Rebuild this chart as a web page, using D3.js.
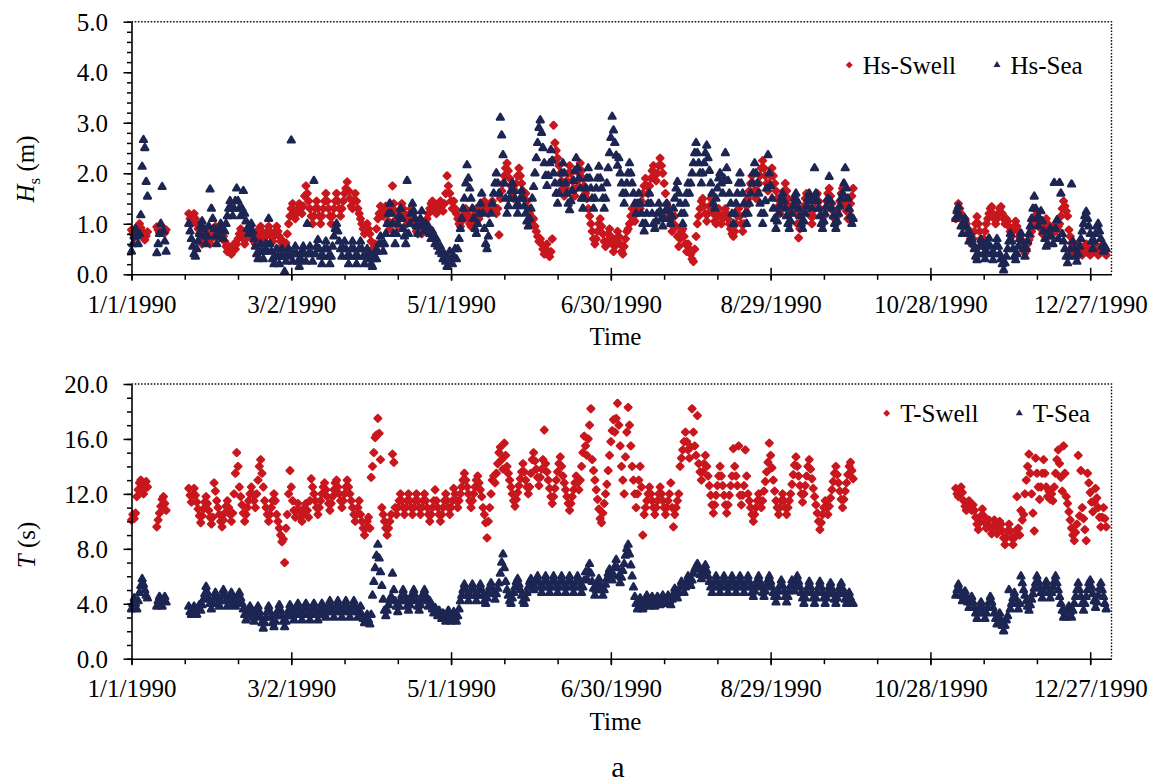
<!DOCTYPE html>
<html><head><meta charset="utf-8">
<script src="https://cdn.jsdelivr.net/npm/d3@7"></script>
<style>body{margin:0;background:#fff}svg{display:block}</style>
</head><body><svg id="c" width="1155" height="784"></svg>
<script>
// ---- data: values every 0.5 day; segments start at these day offsets from 1/1/1990 ----
const segStart = [0, 9.5, 21.5, 309.5];

const hsSwell = [
 [0.88,0.8,0.72,0.8,0.88,0.96,1.0,0.92,0.84,0.76,0.68,0.76,0.84],
 [0.94,0.88,0.82,0.88,0.94,0.88,0.82,0.88],
 [1.2,1.1,1.0,1.1,1.2,1.1,1.0,0.9,0.8,0.7,0.6,0.7,0.8,0.9,0.8,0.7,0.6,0.7,0.8,0.9,
  0.95,0.85,0.75,0.85,0.95,0.85,0.75,0.65,0.55,0.45,0.55,0.45,0.4,0.5,0.6,0.5,0.6,0.7,0.8,0.9,
  0.8,0.7,0.6,0.7,0.8,0.9,0.95,0.85,0.75,0.65,0.6,0.7,0.8,0.9,0.95,0.85,0.75,0.65,0.75,0.85,
  0.95,0.85,0.75,0.65,0.75,0.85,0.95,0.85,0.75,0.65,0.55,0.65,0.55,0.62,0.8,1.0,1.15,1.3,1.4,1.25,
  1.1,1.2,1.3,1.4,1.3,1.2,1.35,1.55,1.75,1.6,1.45,1.3,1.15,1.0,1.15,1.3,1.45,1.3,1.15,1.0,
  1.15,1.3,1.45,1.6,1.45,1.3,1.15,1.0,1.15,1.3,1.45,1.6,1.45,1.3,1.15,1.3,1.45,1.6,1.7,1.83,
  1.65,1.5,1.35,1.3,1.45,1.6,1.45,1.3,1.2,1.1,1.0,0.9,0.8,0.9,1.0,0.9,0.8,0.65,0.5,0.42,
  0.6,0.9,1.1,1.2,1.35,1.25,1.15,1.25,1.35,1.2,1.05,0.9,1.3,1.75,1.4,1.25,1.1,0.95,1.1,1.25,
  1.4,1.3,1.2,1.1,1.0,1.1,1.2,1.3,1.2,1.05,0.95,0.85,0.8,0.9,0.85,0.8,0.9,0.85,0.95,1.1,
  1.2,1.3,1.4,1.45,1.35,1.25,1.2,1.3,1.4,1.45,1.35,1.25,1.4,1.6,1.95,1.75,1.6,1.45,1.3,1.45,
  1.3,1.2,1.1,1.0,0.95,1.05,1.15,1.25,1.3,1.2,1.1,1.0,0.95,1.05,1.15,1.25,1.3,1.2,1.1,1.2,
  1.3,1.4,1.45,1.35,1.25,1.2,1.3,1.4,1.45,1.35,1.25,1.2,1.3,0.78,1.5,1.65,1.8,1.95,2.1,2.2,
  2.05,1.9,1.75,1.6,1.5,1.65,1.8,1.95,2.1,1.95,1.8,1.65,1.5,1.6,1.45,1.3,1.2,1.1,1.0,1.1,
  0.95,0.85,0.75,0.65,0.7,0.6,0.5,0.4,0.5,0.6,0.45,0.35,0.45,0.7,2.95,2.6,2.45,2.3,2.15,2.0,
  1.85,1.7,1.55,1.7,1.85,2.0,2.15,2.0,1.85,1.7,1.55,1.7,1.85,2.0,2.2,2.05,1.9,1.75,1.6,1.5,
  1.3,1.15,1.0,0.85,0.7,0.6,0.7,0.85,1.0,1.1,0.95,0.8,0.65,0.55,0.65,0.8,0.9,0.75,0.6,0.45,
  0.55,0.7,0.85,0.75,0.6,0.45,0.4,0.55,0.7,0.85,0.9,1.0,1.15,1.3,1.2,1.05,1.2,1.3,1.4,1.3,
  1.45,1.6,1.75,1.9,1.75,1.6,1.75,1.9,2.05,2.15,2.0,1.85,2.0,2.15,2.3,2.15,2.0,1.8,1.6,1.4,
  1.3,1.15,1.0,0.85,1.0,1.15,0.95,0.75,0.55,0.7,0.85,0.9,0.75,0.6,0.45,0.6,0.5,0.4,0.3,0.25,
  0.5,0.75,1.0,1.15,1.3,1.45,1.5,1.35,1.2,1.05,1.2,1.35,1.5,1.35,1.2,1.05,1.0,1.15,1.3,1.15,
  1.0,1.1,1.2,1.3,1.2,1.1,1.0,0.9,0.8,0.75,0.85,1.0,1.15,1.3,1.15,1.0,0.85,1.0,1.2,1.35,
  1.5,1.65,1.8,1.95,1.8,1.65,1.5,1.65,1.8,1.95,2.1,2.25,2.1,1.95,1.8,1.65,1.8,1.95,2.1,1.95,
  1.8,1.65,1.5,1.35,1.2,1.35,1.5,1.65,1.8,1.65,1.5,1.35,1.2,1.35,1.5,1.35,1.2,1.0,0.72,0.9,
  1.05,1.2,1.35,1.5,1.6,1.45,1.3,1.15,1.0,1.15,1.3,1.45,1.6,1.45,1.3,1.15,1.0,1.15,1.3,1.45,
  1.6,1.7,1.55,1.4,1.25,1.1,1.0,1.15,1.3,1.45,1.6,1.7,1.55,1.4,1.25,1.1,1.25,1.4,1.55,1.7],
 [1.1,1.25,1.4,1.3,1.2,1.1,1.0,1.1,1.0,0.9,
  0.8,0.7,0.6,0.7,0.85,1.0,1.14,1.0,0.85,0.7,0.6,0.7,0.85,1.0,
  1.1,1.2,1.3,1.34,1.2,1.1,1.0,1.1,1.2,1.3,1.34,1.2,1.1,1.0,1.1,
  1.05,0.95,0.85,0.75,0.85,0.95,1.05,0.95,0.85,0.75,
  0.68,0.58,0.48,0.42,0.5,0.6,0.68,
  0.75,0.85,0.95,1.05,1.15,1.2,1.1,1.0,0.9,0.8,0.9,1.0,1.1,
  1.0,0.9,0.85,0.9,0.95,0.9,0.85,0.9,0.95,1.0,
  1.15,1.3,1.45,1.35,1.25,1.15,
  0.88,0.75,0.62,0.5,0.42,0.5,
  0.55,0.6,0.52,0.45,0.38,0.45,0.52,0.6,0.52,0.45,0.38,0.45,0.52,0.6,0.52,0.45,0.38,0.45,0.52,0.58,0.5,0.42,0.38]
];

const hsSea = [
 [0.45,0.6,0.75,0.9,0.75,0.6,0.8,1.17,2.13,2.66,2.5,1.83,1.54],
 [0.42,0.6,0.8,1.0,1.73,0.85,0.65,0.45],
 [1.0,0.85,0.7,0.55,0.4,0.35,0.5,0.65,0.8,0.95,1.05,0.9,0.75,0.6,0.75,0.95,1.68,1.3,1.1,0.9,
  0.75,0.6,0.75,0.9,1.0,0.85,0.7,0.85,1.0,1.15,1.3,1.45,1.3,1.15,1.3,1.45,1.7,1.45,1.3,1.15,
  1.3,1.65,1.2,1.05,0.9,0.8,0.9,1.0,0.85,0.7,0.55,0.4,0.3,0.45,0.6,0.45,0.3,0.45,0.6,0.45,
  1.1,0.6,0.45,0.3,0.2,0.35,0.5,0.35,0.2,0.35,0.5,0.35,0.05,0.25,0.4,0.5,0.35,2.65,0.25,0.4,
  0.55,0.4,0.25,0.15,0.3,0.45,0.55,0.4,0.25,1.0,0.4,0.55,0.4,0.25,1.85,0.4,0.55,0.68,0.5,0.35,
  0.2,0.35,0.5,0.65,0.5,0.35,0.2,0.35,0.55,0.75,0.9,1.0,0.85,0.65,0.5,0.35,0.5,0.65,0.5,0.35,
  0.2,0.35,0.5,0.65,0.5,0.35,0.2,0.35,0.5,0.65,0.5,0.35,0.2,0.35,0.5,0.4,0.3,0.2,0.15,0.3,
  0.45,0.3,0.45,0.6,0.75,0.6,0.45,0.6,0.8,1.0,1.2,1.4,1.2,1.0,0.8,0.6,0.8,1.0,1.15,1.3,
  1.1,0.9,0.75,0.6,1.85,0.8,1.0,1.2,1.4,1.25,1.1,0.95,0.8,0.95,1.1,1.25,1.0,0.85,1.0,0.9,
  0.95,0.8,0.7,0.85,0.75,0.6,0.7,0.55,0.45,0.55,0.4,0.3,0.4,0.25,0.15,0.3,0.45,0.3,0.2,0.35,
  0.5,0.3,0.5,0.7,0.9,1.1,1.3,1.5,1.8,2.16,1.9,1.7,1.5,1.3,1.1,0.9,0.8,1.0,1.2,1.4,
  1.6,1.2,0.9,0.6,0.5,0.75,1.0,1.2,1.4,1.6,1.8,2.0,1.8,1.6,3.1,2.75,2.36,1.8,1.5,1.2,
  1.35,1.5,1.65,1.8,1.65,1.5,1.35,1.2,1.35,1.5,1.65,1.5,1.35,1.2,1.05,0.95,1.1,1.3,1.5,1.73,
  2.0,2.3,2.6,2.9,3.05,2.8,2.5,2.2,1.95,1.75,1.95,2.2,2.46,2.25,2.0,1.8,1.6,1.4,1.6,1.8,
  2.0,2.2,2.0,1.8,1.6,1.4,1.27,1.45,1.65,1.85,2.05,2.3,2.1,1.9,1.7,1.5,1.3,1.5,1.7,1.9,
  2.1,1.9,1.7,1.5,1.3,1.5,1.7,1.9,2.13,1.9,1.7,1.5,1.3,1.5,1.8,2.1,2.4,2.7,3.12,2.85,
  2.6,2.35,2.15,2.3,2.0,1.8,1.6,1.4,1.6,1.8,2.0,2.2,2.0,1.8,1.6,1.4,1.2,1.4,1.6,1.4,
  1.2,1.0,0.85,1.0,1.2,1.4,1.6,1.4,1.2,1.0,0.9,1.05,1.2,1.4,1.25,1.1,0.95,1.1,1.25,1.4,
  1.25,1.1,1.0,1.15,1.3,1.5,1.7,1.83,1.6,1.4,1.2,1.0,1.2,1.4,1.6,1.8,1.6,1.8,2.0,2.2,
  2.4,2.6,2.4,2.2,2.0,1.8,2.0,2.2,2.4,2.55,2.3,2.05,1.8,1.6,1.4,1.3,1.5,1.7,1.9,2.0,
  1.8,1.6,1.9,2.4,2.1,1.85,1.6,1.4,1.2,1.0,1.2,1.4,1.6,1.8,2.0,1.8,1.6,1.4,1.2,1.0,
  1.2,1.4,1.6,1.8,2.0,2.2,2.0,1.8,1.6,1.4,1.2,1.0,1.2,1.45,1.7,2.36,2.0,1.75,1.5,1.3,
  1.1,0.9,1.05,1.2,1.35,1.5,1.6,1.45,1.3,1.15,1.0,0.9,1.05,1.2,1.35,1.5,1.6,1.45,1.3,1.15,
  1.0,0.9,1.05,1.2,1.35,1.5,1.6,1.45,1.3,1.5,2.1,1.6,1.45,1.3,1.15,1.0,0.9,1.05,1.2,1.35,
  1.5,1.93,1.45,1.3,1.15,1.0,0.9,1.05,1.2,1.35,1.5,1.6,1.8,2.1,1.7,1.5,1.3,1.15,1.0,1.1],
 [1.1,1.25,1.34,1.15,0.95,0.8,
  0.95,1.1,0.95,0.8,0.65,0.8,0.7,0.6,
  0.5,0.35,0.28,0.4,0.55,0.68,0.55,0.4,0.3,0.45,
  0.6,0.71,0.55,0.4,0.28,0.4,0.55,0.7,0.55,0.4,0.3,0.2,
  0.08,0.22,
  0.35,0.5,0.65,0.8,0.65,0.5,0.35,0.28,0.4,0.55,0.7,0.81,0.65,0.5,0.35,0.5,
  0.65,0.8,0.95,1.1,1.3,1.54,1.3,1.1,0.95,1.1,1.25,1.05,0.85,0.7,0.55,
  0.6,0.75,0.9,0.75,0.6,
  1.81,0.9,1.07,0.7,1.81,
  1.6,0.8,0.65,0.5,0.35,0.22,0.35,0.5,1.78,0.65,0.5,0.35,0.25,
  0.4,0.55,0.7,0.85,1.0,1.15,1.24,1.1,0.95,0.8,0.65,0.5,0.65,0.8,0.95,1.0,0.85,0.7,0.55,0.45,0.55,0.5]
];

const tSwell = [
 [10.1,10.5,10.2,10.6,11.8,12.3,12.8,13.0,12.5,12.0,12.4,12.9,12.5],
 [9.6,10.1,10.6,11.1,11.6,11.8,11.3,10.8],
 [12.4,11.9,11.4,11.9,12.4,11.9,11.4,10.9,10.4,9.9,10.4,10.9,11.4,11.8,11.3,10.8,10.3,9.8,10.3,12.8,
  12.2,11.5,11.0,10.5,10.0,9.6,10.1,10.6,11.1,11.5,11.0,10.5,10.0,10.6,12.0,13.5,15.0,14.0,12.5,11.8,
  11.2,10.6,10.0,10.5,11.0,11.5,12.0,12.5,12.0,11.5,11.0,12.0,13.0,14.0,14.5,13.5,12.5,11.5,11.0,10.5,
  10.0,10.5,11.0,11.5,12.0,11.5,10.5,10.0,9.5,9.0,8.5,8.7,7.0,9.5,10.5,12.0,13.7,12.5,11.5,10.8,
  10.3,10.8,11.3,10.8,10.3,10.0,10.5,11.0,11.3,10.8,10.3,11.5,13.1,12.5,12.0,11.5,11.0,10.5,11.0,11.5,
  12.0,12.5,12.8,12.3,11.8,11.3,10.8,11.3,11.8,12.3,12.8,13.0,12.5,12.0,11.5,11.0,11.5,12.0,12.5,13.0,
  12.5,12.0,11.5,11.0,10.5,10.0,10.5,11.0,11.5,10.5,10.0,9.5,9.0,9.5,10.0,10.3,9.5,13.2,14.0,15.0,
  16.1,16.3,17.5,16.4,14.5,11.0,10.5,10.0,9.5,9.0,9.5,10.0,10.5,14.9,14.3,11.0,10.5,11.0,11.5,12.0,
  11.5,11.0,10.5,11.0,11.5,12.0,11.5,11.0,10.5,11.0,11.5,12.0,11.5,11.0,10.5,11.0,11.5,12.0,11.5,11.0,
  10.5,10.0,10.5,11.0,11.5,12.3,11.5,11.0,10.5,10.0,10.5,11.0,11.5,12.0,11.5,11.0,10.5,11.0,11.5,12.4,
  12.0,11.5,11.0,11.5,12.0,12.5,13.0,13.5,13.0,12.5,12.0,11.5,11.0,11.5,12.0,12.5,13.0,13.3,12.8,12.3,
  11.8,11.0,10.5,9.9,8.8,10.0,11.0,12.0,13.0,13.3,12.8,13.5,14.2,15.0,15.4,14.5,13.8,15.7,14.8,14.0,
  13.5,13.0,12.5,12.0,11.5,11.1,11.6,12.1,12.6,13.1,13.6,14.2,13.6,13.0,12.5,12.0,12.5,13.5,14.5,15.0,
  14.4,13.8,13.2,12.6,13.2,13.8,14.5,16.65,14.2,13.6,13.0,12.4,11.8,11.3,11.8,12.4,13.0,13.6,14.2,14.7,
  14.0,13.3,12.8,12.3,11.8,11.3,10.8,11.3,11.8,12.3,12.8,13.3,12.8,12.3,13.0,14.0,15.0,16.2,15.5,14.8,
  16.0,17.0,18.2,14.5,13.7,13.0,12.3,11.6,10.9,10.2,9.9,10.6,11.3,12.0,12.7,13.7,14.8,15.8,16.6,17.4,
  16.5,17.5,18.6,17.0,15.5,14.0,13.0,12.0,14.7,16.5,18.3,17.0,15.5,14.0,13.0,12.0,11.0,12.0,13.0,14.0,
  12.5,9.0,10.5,11.0,11.5,12.0,12.5,12.0,11.5,11.0,10.5,11.0,11.5,12.0,12.5,12.0,11.5,11.0,10.5,11.0,
  11.5,12.0,12.8,11.0,9.6,10.5,11.0,11.5,12.0,14.0,14.6,15.2,15.8,16.5,15.8,15.2,14.6,15.4,18.2,16.5,
  15.5,14.8,17.7,14.2,13.6,13.0,13.6,14.2,14.8,14.0,13.3,12.6,11.9,11.2,10.6,11.2,11.9,12.6,13.3,14.0,
  13.3,12.6,11.9,11.2,10.6,11.2,11.9,12.6,13.3,15.3,14.0,13.3,12.6,15.5,11.9,11.2,11.9,12.6,15.2,13.3,
  12.0,11.5,11.0,10.5,10.0,10.5,11.0,11.5,12.0,11.5,11.0,11.5,12.2,12.9,13.6,14.3,15.7,14.8,13.9,13.0,
  12.2,11.5,11.0,10.5,11.0,11.5,12.0,11.5,11.0,10.5,11.0,11.5,12.0,12.7,13.4,14.1,14.7,14.0,13.3,12.6,
  12.0,11.4,12.0,12.6,13.3,14.0,14.5,13.8,13.1,12.4,11.8,11.2,10.6,10.0,9.4,9.9,10.5,11.0,11.5,11.0,
  10.5,11.1,11.7,12.3,12.9,13.5,14.0,13.4,12.8,12.2,11.6,11.0,11.6,12.2,12.8,13.4,14.0,14.3,13.7,13.1],
 [12.4,12.0,11.8,12.2,12.5,12.1,
  11.5,11.1,10.8,11.2,11.5,11.1,10.8,11.2,
  10.8,10.3,9.8,9.4,9.9,10.4,10.9,10.4,9.9,9.5,
  9.6,10.1,9.6,9.1,9.6,10.1,9.6,9.1,9.6,10.0,
  9.8,9.3,8.8,8.3,8.8,9.3,9.8,9.3,8.8,8.3,8.8,9.3,11.8,9.5,9.0,
  10.8,10.1,10.5,
  12.0,13.0,14.0,14.9,13.5,12.0,10.6,9.3,14.6,13.5,12.5,11.6,12.5,13.5,14.5,13.5,12.5,
  11.8,12.2,11.6,12.0,
  11.5,12.5,13.5,14.5,15.2,14.2,13.2,12.2,15.5,13.5,11.8,
  11.3,10.7,10.1,9.5,9.0,8.6,9.2,9.8,14.8,10.4,13.7,11.0,10.2,9.4,8.6,
  13.5,12.8,12.1,11.4,10.7,11.4,12.4,11.7,11.0,10.3,9.6,10.3,11.0,10.2,9.6]
];

const tSea = [
 [3.6,4.0,4.4,4.0,3.6,4.2,4.8,5.3,5.8,5.4,5.0,4.6,4.4],
 [3.8,4.2,4.5,4.1,3.8,4.2,4.5,4.1],
 [3.8,3.4,3.2,3.6,3.8,3.4,3.2,3.6,3.9,3.5,3.9,4.3,4.7,5.24,4.8,4.4,4.0,3.6,4.0,4.4,
  4.8,4.4,4.0,3.8,4.2,4.6,5.0,4.6,4.2,3.8,4.2,4.6,4.8,4.4,4.0,3.8,4.2,4.6,4.8,4.4,
  4.0,3.6,3.2,2.8,3.2,3.6,3.8,3.4,3.0,2.7,3.1,3.5,3.8,3.4,3.0,2.6,2.2,2.6,3.0,3.4,
  3.8,3.4,3.0,2.6,2.3,2.7,3.1,3.5,3.9,3.5,3.1,2.7,2.3,2.7,3.1,3.5,3.9,3.5,3.1,2.8,
  3.2,3.6,4.0,3.6,3.2,2.8,3.2,3.6,4.0,3.6,3.2,2.8,3.2,3.6,4.0,3.6,3.2,2.8,3.2,3.6,
  4.0,3.6,3.2,3.0,3.4,3.8,4.2,3.8,3.4,3.0,3.4,3.8,4.2,3.8,3.4,3.0,3.4,3.8,4.2,3.8,
  3.4,3.0,3.4,3.8,4.2,3.8,3.4,3.0,3.4,3.8,3.2,2.9,2.6,2.9,3.2,2.8,2.5,3.2,4.6,5.6,
  6.6,7.5,8.3,7.3,6.3,5.3,4.3,3.5,3.1,3.5,3.9,4.3,4.5,6.2,5.0,4.2,3.8,3.4,3.8,4.2,
  4.6,5.0,4.6,4.2,3.8,3.5,3.9,4.3,4.7,5.0,4.6,4.2,3.8,3.5,3.9,4.3,4.7,5.0,4.6,4.2,
  3.8,4.2,4.0,3.6,3.3,3.7,3.4,3.1,3.5,3.2,2.9,3.3,3.0,2.7,3.1,3.5,3.1,2.7,3.0,3.4,
  3.0,2.7,3.1,3.6,4.2,4.6,5.0,5.4,5.0,4.6,4.2,4.6,5.0,5.4,5.0,4.6,4.2,4.6,5.0,5.4,
  5.0,4.6,4.2,4.0,4.4,4.8,5.2,5.5,5.1,4.7,4.3,4.7,5.1,5.5,6.2,7.0,7.6,6.6,5.6,5.0,
  4.6,4.2,4.0,4.4,4.8,5.2,5.6,5.8,5.4,5.0,4.6,4.2,4.0,4.4,4.8,5.2,5.6,5.8,5.4,5.0,
  5.2,5.6,6.0,5.6,5.2,4.8,5.2,5.6,6.0,5.6,5.2,4.8,5.2,5.6,6.0,5.6,5.2,4.8,5.2,5.6,
  6.0,5.6,5.2,4.8,5.2,5.6,6.0,5.6,5.2,4.8,5.2,5.6,6.0,5.6,5.2,4.8,5.2,5.7,6.3,5.8,
  6.4,6.9,6.2,5.6,5.1,4.6,5.0,5.4,5.8,5.4,5.0,4.6,5.0,5.4,5.8,6.2,6.5,6.1,5.7,6.1,
  6.7,7.2,6.6,6.0,5.5,5.9,6.4,6.9,7.5,8.0,8.3,7.6,6.8,6.0,5.2,4.5,4.0,3.6,4.0,4.4,
  4.0,3.6,3.8,4.2,4.6,4.2,3.8,4.1,4.5,4.2,3.8,4.1,4.5,4.2,3.9,4.2,4.6,4.3,4.0,4.4,
  4.6,4.2,3.9,4.3,4.7,5.1,4.7,4.4,4.8,5.2,5.6,5.2,4.8,5.2,5.6,6.0,5.6,5.3,5.7,6.2,
  6.5,6.7,6.9,6.5,6.1,5.8,6.2,6.6,6.8,6.4,6.0,5.6,5.2,4.8,5.2,5.6,6.0,5.6,5.2,4.8,
  5.2,5.6,6.0,5.6,5.2,4.8,5.2,5.6,6.0,5.6,5.2,4.8,5.2,5.6,6.0,5.6,5.2,4.8,5.2,5.6,
  6.0,5.6,5.2,4.8,4.5,4.9,5.3,5.7,6.0,5.6,5.2,4.8,4.5,4.9,5.3,5.7,6.0,5.6,5.2,4.8,
  4.5,4.1,4.5,4.9,5.3,5.7,5.3,4.9,4.5,4.1,4.5,4.9,5.3,5.7,5.3,4.9,5.5,6.0,5.6,5.2,
  4.8,4.4,4.0,4.4,4.8,5.2,5.6,5.2,4.8,4.4,4.0,4.4,4.8,5.2,5.6,5.2,4.8,4.4,4.0,4.4,
  4.8,5.2,5.5,5.1,4.7,4.3,4.0,4.4,4.8,5.2,5.5,5.1,4.7,4.3,4.0,4.4,4.8,4.4,4.1,4.0],
 [4.6,5.0,5.4,5.0,4.6,4.2,
  4.5,4.9,4.5,4.1,3.7,4.1,4.5,4.1,
  3.7,3.3,2.9,3.3,3.7,4.1,3.7,3.3,2.9,3.3,
  3.7,4.1,4.5,4.1,3.7,3.3,2.9,2.5,2.9,3.3,
  2.8,2.4,2.0,2.4,2.8,3.1,5.0,3.6,4.0,4.4,4.8,4.4,4.0,3.6,4.0,
  6.0,5.5,5.0,
  4.6,4.2,3.8,3.5,3.9,4.3,4.7,5.1,5.5,6.0,5.6,5.2,4.8,4.4,4.8,5.2,5.6,
  5.2,4.8,4.4,4.8,
  5.2,5.6,6.0,5.5,5.0,4.5,4.0,3.5,3.0,3.4,3.0,
  3.4,3.8,3.4,3.0,3.5,4.0,4.5,5.0,5.5,5.0,4.5,4.0,3.5,4.0,4.5,
  5.0,5.5,5.7,5.2,4.7,4.2,3.7,4.1,4.6,5.1,5.5,5.0,4.5,4.0,3.6]
];

// axes
const xDomainDays = [0, 368];
const xTickDays = [0, 60, 120, 180, 240, 300, 360];
const xTickLabels = ["1/1/1990","3/2/1990","5/1/1990","6/30/1990","8/29/1990","10/28/1990","12/27/1990"];
const xMinorStep = 20;
const hsTicks = [0, 1, 2, 3, 4, 5];
const tTicks = [0, 4, 8, 12, 16, 20];

// ---- drawing ----
const DAY = 86400000, T0 = Date.UTC(1990, 0, 1);
const dayToDate = d => new Date(T0 + d * DAY);
const RED = "#c8171e", NAVY = "#1d2653";
const FONT = "'Liberation Serif','Times New Roman',Times,serif";

function toPoints(series) {
  const pts = [];
  series.forEach((seg, s) => seg.forEach((v, i) => pts.push({ date: dayToDate(segStart[s] + i * 0.5), v })));
  return pts;
}

const svg = d3.select("#c");
svg.append("rect").attr("width", 1155).attr("height", 784).attr("fill", "#fff");

const x = d3.scaleUtc().domain(xDomainDays.map(dayToDate)).range([131.5, 1111.5]);
const diamond = d3.symbol(d3.symbolSquare, 22)();
const triangle = d3.symbol(d3.symbolTriangle, 20)();
const diamondL = d3.symbol(d3.symbolSquare, 24)();
const triangleL = d3.symbol(d3.symbolTriangle, 22)();

function panel(cfg) {
  const y = d3.scaleLinear().domain([0, cfg.ticks[cfg.ticks.length - 1]]).range([cfg.y0, cfg.y1]);
  const g = svg.append("g");
  const [xl, xr] = x.range();

  g.append("path")
    .attr("d", `M${xl},${cfg.y1}H${xr}V${cfg.y0}`)
    .attr("fill", "none").attr("stroke", "#111").attr("stroke-width", 1.4)
    .attr("stroke-dasharray", "1.6,1.6");

  const drawSeries = (data, path, color, rot) => {
    g.append("g").attr("fill", color).attr("stroke", color).attr("stroke-width", 2.4)
      .attr("stroke-linejoin", "round")
      .selectAll("path").data(toPoints(data)).join("path")
      .attr("d", path)
      .attr("transform", d => `translate(${x(d.date)},${y(d.v)})${rot ? " rotate(45)" : ""}`);
  };
  drawSeries(cfg.swell, diamond, RED, true);
  drawSeries(cfg.sea, triangle, NAVY, false);

  const minors = d3.range(0, cfg.ticks[cfg.ticks.length - 1] + 1e-9, cfg.minor);
  const yMinor = g.append("g").attr("transform", `translate(${xl},0)`)
    .call(d3.axisLeft(y).tickValues(minors).tickSize(4.5).tickSizeOuter(0).tickFormat(""));
  yMinor.select(".domain").remove();
  const yAx = g.append("g").attr("transform", `translate(${xl},0)`)
    .call(d3.axisLeft(y).tickValues(cfg.ticks).tickSize(8).tickSizeOuter(0).tickFormat(d3.format(".1f")));
  yAx.selectAll("text").attr("x", -23.5).attr("dy", "0.34em")
    .attr("font-family", FONT).attr("font-size", 25).attr("fill", "#000");

  const xMinorVals = d3.range(xDomainDays[0], xDomainDays[1], xMinorStep).map(dayToDate);
  const xMinor = g.append("g").attr("transform", `translate(0,${cfg.y0})`)
    .call(d3.axisBottom(x).tickValues(xMinorVals).tickSize(5.5).tickSizeOuter(0).tickFormat(""));
  xMinor.select(".domain").remove();
  const xAx = g.append("g").attr("transform", `translate(0,${cfg.y0})`)
    .call(d3.axisBottom(x).tickValues(xTickDays.map(dayToDate)).tickSize(6.5).tickSizeOuter(0)
      .tickFormat((d, i) => xTickLabels[i]));
  xAx.selectAll(".tick line").attr("y1", (d, i) => i === 0 ? 0 : -6.5);
  xAx.selectAll("text").attr("y", 21).attr("dy", "0.71em")
    .attr("font-family", FONT).attr("font-size", 25).attr("fill", "#000");

  [yMinor, yAx, xMinor, xAx].forEach(a => {
    a.selectAll("line").attr("stroke", "#000").attr("stroke-width", 1.5);
    a.selectAll(".domain").attr("stroke", "#000").attr("stroke-width", 1.6);
  });

  g.append("text").attr("x", (xl + xr) / 2 - 6).attr("y", cfg.y0 + 71)
    .attr("text-anchor", "middle").attr("font-family", FONT).attr("font-size", 25).text("Time");

  const yt = g.append("text").attr("transform", `translate(${cfg.ytx},${cfg.yty}) rotate(-90)`)
    .attr("text-anchor", "middle").attr("font-family", FONT).attr("font-size", 25);
  cfg.ytitle(yt);

  const L = cfg.legend;
  g.append("path").attr("d", diamondL).attr("fill", RED)
    .attr("transform", `translate(${L.d},${L.y}) rotate(45)`);
  g.append("text").attr("x", L.d + 13.5).attr("y", L.y + 8.5).attr("font-family", FONT)
    .attr("font-size", 25).text(L.names[0]);
  g.append("path").attr("d", triangleL).attr("fill", NAVY)
    .attr("transform", `translate(${L.t},${L.y})`);
  g.append("text").attr("x", L.t + 13.5).attr("y", L.y + 8.5).attr("font-family", FONT)
    .attr("font-size", 25).text(L.names[1]);
}

panel({
  y0: 274.3, y1: 21.7, ticks: hsTicks, minor: 0.2, swell: hsSwell, sea: hsSea,
  ytx: 34, yty: 169,
  ytitle: t => {
    t.append("tspan").attr("font-style", "italic").text("H");
    t.append("tspan").attr("font-size", 17).attr("dy", 6).text("s");
    t.append("tspan").attr("dy", -6).text(" (m)");
  },
  legend: { d: 849.3, t: 997, y: 65, names: ["Hs-Swell", "Hs-Sea"] }
});

panel({
  y0: 658.7, y1: 384, ticks: tTicks, minor: 1, swell: tSwell, sea: tSea,
  ytx: 35, yty: 545,
  ytitle: t => {
    t.append("tspan").attr("font-style", "italic").text("T");
    t.append("tspan").text(" (s)");
  },
  legend: { d: 886.7, t: 1019.3, y: 413.3, names: ["T-Swell", "T-Sea"] }
});

svg.append("text").attr("x", 618).attr("y", 777).attr("text-anchor", "middle")
  .attr("font-family", FONT).attr("font-size", 30).text("a");
</script>
</body></html>
